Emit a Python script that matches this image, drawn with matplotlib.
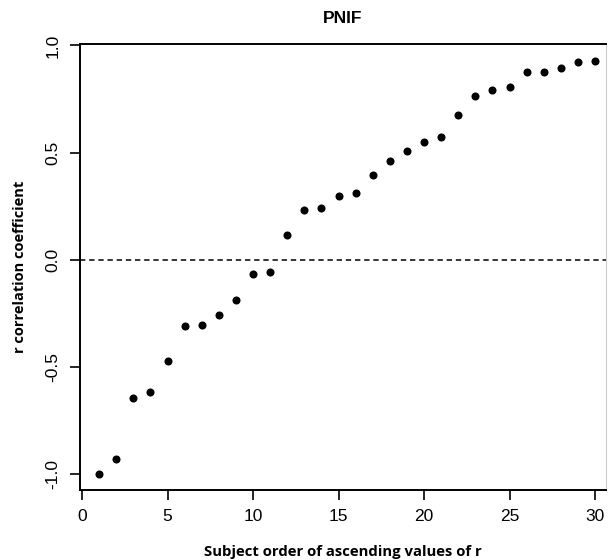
import numpy as np
import matplotlib
matplotlib.use('Agg')
import matplotlib.pyplot as plt

# subject order and correlation coefficient r (sorted ascending)
subject = np.arange(1, 31)
r_values = [-1.00, -0.933, -0.645, -0.618, -0.472, -0.312, -0.308, -0.260, -0.187, -0.069,
            -0.059, 0.115, 0.232, 0.242, 0.298, 0.313, 0.393, 0.458, 0.505, 0.547,
            0.572, 0.674, 0.763, 0.794, 0.805, 0.875, 0.878, 0.896, 0.922, 0.927]
xticks = [0, 5, 10, 15, 20, 25, 30]
yticks = [-1.0, -0.5, 0.0, 0.5, 1.0]

plt.rcParams['font.family'] = ['Liberation Sans', 'DejaVu Sans']

fig = plt.figure(figsize=(6.09, 5.6), dpi=100)
ax = fig.add_axes([80/609, 70/560, 526/609, 446/560])

ax.plot(subject, r_values, 'o', color='black', markersize=5.8, markeredgewidth=0)
ax.axhline(0, color='black', linestyle=(0, (3.5, 2.5)), linewidth=1.1)

ax.set_xlim(-0.12, 30.64)
ax.set_ylim(-1.077, 1.007)
ax.set_xticks(xticks)
ax.set_xticklabels([str(t) for t in xticks])
ax.set_yticks(yticks)
ax.set_yticklabels(['%.1f' % t for t in yticks], rotation=90, va='center')
ax.tick_params(axis='both', length=7, width=1.2, labelsize=12.5, colors='black')
ax.tick_params(axis='x', pad=7)
ax.tick_params(axis='y', pad=7)

for s in ['left', 'bottom', 'top']:
    ax.spines[s].set_linewidth(1.4)
ax.spines['right'].set_linewidth(0.8)
ax.spines['right'].set_color('#cccccc')

ax.set_title('PNIF', fontsize=12.5, fontweight='bold', pad=15)
ax.set_xlabel('Subject order of ascending values of r', family=['Open Sans', 'DejaVu Sans'],
              fontsize=10.7, fontweight='bold', labelpad=15)
ax.set_ylabel('r correlation coefficient', family=['Open Sans', 'DejaVu Sans'],
              fontsize=10.5, fontweight='bold', labelpad=13)

fig.savefig('out.png', dpi=100)
